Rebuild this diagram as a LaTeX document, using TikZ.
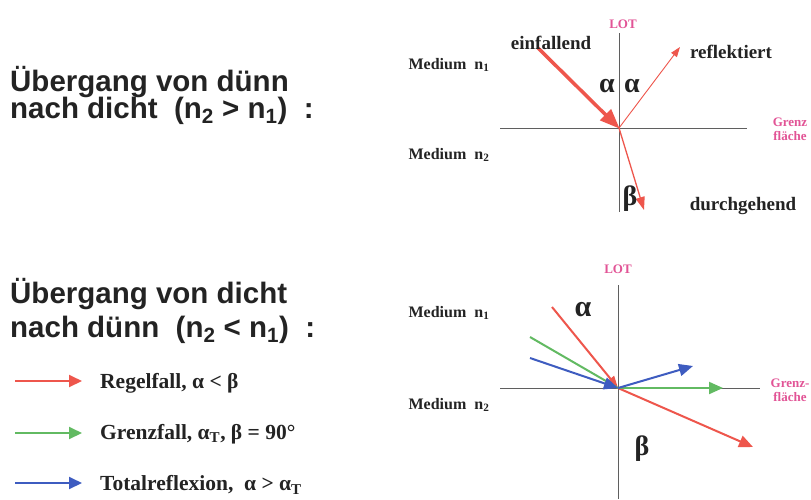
\documentclass[tikz,border=0pt]{standalone}
\usepackage{fontspec}
\setmainfont{Liberation Serif}
\newfontfamily\arialf{Liberation Sans}
\usetikzlibrary{arrows.meta}
\definecolor{rayred}{RGB}{238,86,76}
\definecolor{raygreen}{RGB}{98,186,98}
\definecolor{rayblue}{RGB}{62,92,192}
\definecolor{lotpink}{RGB}{226,84,150}
\definecolor{axisgray}{RGB}{95,95,95}
\definecolor{txt}{RGB}{35,35,35}
\tikzset{
  axis/.style={draw=axisgray, line width=1pt},
  title/.style={font=\arialf\bfseries\fontsize{29.5}{27}\selectfont, text=txt, anchor=base west, inner sep=0pt},
  lbl/.style={font=\bfseries\fontsize{19}{19}\selectfont, text=txt, inner sep=0pt},
  medium/.style={font=\bfseries\fontsize{16}{16}\selectfont, text=txt, inner sep=0pt},
  pinklbl/.style={font=\bfseries\fontsize{13}{14}\selectfont, text=lotpink, inner sep=0pt, align=center},
  greek/.style={font=\bfseries\fontsize{28}{28}\selectfont, text=txt, inner sep=0pt},
  legtxt/.style={font=\bfseries\fontsize{21.5}{21.5}\selectfont, text=txt, anchor=west, inner sep=0pt},
  bigtip/.style={-{Triangle[length=14pt,width=12pt]}, line width=2pt},
  legarrow/.style={-{Triangle[length=13pt,width=12pt]}, line width=2pt},
}
\begin{document}
\begin{tikzpicture}[x=1pt,y=-1pt]
\useasboundingbox (0,0) rectangle (811,499);
\fill[white] (0,0) rectangle (811,499);

% ---------- left titles ----------
\node[title] (t1a) at (10,91) {Übergang von dünn};
\node[title] (t1b) at (10,118) {nach dicht\ \ (n\textsubscript{2} > n\textsubscript{1})\ \ :};
\node[title] (t2a) at (10,303) {Übergang von dicht};
\node[title] (t2b) at (10,337) {nach dünn\ \ (n\textsubscript{2} < n\textsubscript{1})\ \ :};

% ---------- legend ----------
\coordinate (lr1) at (15,381); \coordinate (lr2) at (82,381);
\coordinate (lg1) at (15,433); \coordinate (lg2) at (82,433);
\coordinate (lb1) at (15,483); \coordinate (lb2) at (82,483);
\draw[legarrow, rayred] (lr1) -- (lr2);
\draw[legarrow, raygreen] (lg1) -- (lg2);
\draw[legarrow, rayblue] (lb1) -- (lb2);
\node[legtxt] (leg1) at (100,383) {Regelfall, α < β};
\node[legtxt] (leg2) at (100,434) {Grenzfall, α\textsubscript{T}, β = 90°};
\node[legtxt] (leg3) at (100,485) {Totalreflexion,\ \ α > α\textsubscript{T}};

% ---------- top diagram ----------
\coordinate (O1) at (619,128);
\coordinate (lotT1) at (619,33);
\coordinate (lotB1) at (619,212);
\coordinate (gL1) at (500,128);
\coordinate (gR1) at (747,128);
\coordinate (in1) at (538,48);
\coordinate (refl1) at (680,47);
\coordinate (refr1) at (644,210);
\draw[axis] (lotT1) -- (lotB1);
\draw[axis] (gL1) -- (gR1);
\draw[rayred, line width=3.5pt, -{Triangle[length=20pt,width=15pt]}, shorten >=-1pt] (in1) -- (O1);
\draw[rayred, line width=0.9pt, -{Triangle[length=10pt,width=7pt]}] (O1) -- (refl1);
\draw[rayred, line width=1.3pt, -{Triangle[length=13pt,width=9pt]}] (O1) -- (refr1);

\node[pinklbl] (lot1) at (623,24) {LOT};
\node[pinklbl] (gf1) at (790,129) {Grenz\\fläche};
\node[lbl] (einf) at (551,43) {einfallend};
\node[lbl] (refl) at (731,52) {reflektiert};
\node[lbl] (durch) at (743,206) {durchgehend};
\node[medium] (m1a) at (449,65) {Medium\ \ n\textsubscript{1}};
\node[medium] (m2a) at (449,155) {Medium\ \ n\textsubscript{2}};
\node[greek] (al1) at (607,86) {α};
\node[greek] (al2) at (632,86) {α};
\node[greek] (be1) at (630,199) {β};

% ---------- bottom diagram ----------
\coordinate (O2) at (618,388);
\coordinate (lotT2) at (618,285);
\coordinate (lotB2) at (618,499);
\coordinate (gL2) at (500,388);
\coordinate (gR2) at (760,388);
\coordinate (rin) at (552,307);
\coordinate (rout) at (753,447);
\coordinate (gin) at (530,337);
\coordinate (gout) at (723,388);
\coordinate (bin) at (530,358);
\coordinate (bout) at (693,366);
\draw[axis] (lotT2) -- (lotB2);
\draw[axis] (gL2) -- (gR2);
\draw[rayred, line width=2pt, -{Triangle[length=12pt,width=9pt]}] (rin) -- (O2);
\draw[raygreen, line width=2pt] (gin) -- (O2);
\draw[rayblue, bigtip] (bin) -- (O2);
\draw[rayred, bigtip] (O2) -- (rout);
\draw[raygreen, bigtip] (O2) -- (gout);
\draw[rayblue, bigtip] (O2) -- (bout);

\node[pinklbl] (lot2) at (618,269) {LOT};
\node[pinklbl] (gf2) at (790,390) {Grenz-\\fläche};
\node[medium] (m1b) at (449,313) {Medium\ \ n\textsubscript{1}};
\node[medium] (m2b) at (449,405) {Medium\ \ n\textsubscript{2}};
\node[greek, font=\bfseries\fontsize{30}{30}\selectfont] (al3) at (583,310) {α};
\node[greek, font=\bfseries\fontsize{28}{28}\selectfont] (be2) at (642,449) {β};
\end{tikzpicture}
\end{document}
